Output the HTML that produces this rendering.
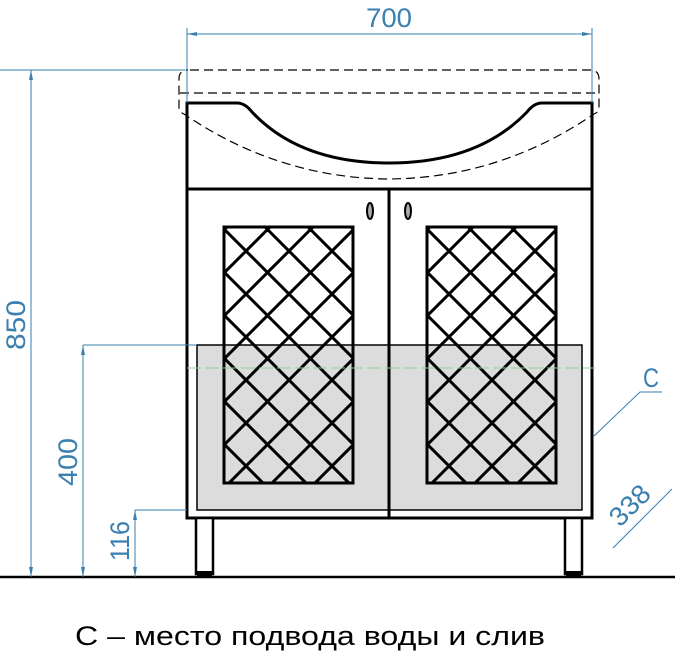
<!DOCTYPE html>
<html><head><meta charset="utf-8"><style>
html,body{margin:0;padding:0;background:#fff;width:675px;height:656px;overflow:hidden}
svg{display:block}
</style></head><body>
<svg width="675" height="656" viewBox="0 0 675 656" xmlns="http://www.w3.org/2000/svg">
<defs>
<clipPath id="cl"><rect x="224" y="227" width="129" height="256"/></clipPath>
<clipPath id="cr"><rect x="427" y="227" width="129" height="256"/></clipPath>
<g id="lat">
<path d="M-260,0 L260,520 M-217,0 L303,520 M-174,0 L346,520 M-131,0 L389,520 M-88,0 L432,520 M-45,0 L475,520 M-2,0 L518,520 M41,0 L561,520 M84,0 L604,520 M127,0 L647,520 M170,0 L690,520
M390,0 L-130,520 M347,0 L-173,520 M304,0 L-216,520 M261,0 L-259,520 M218,0 L-302,520 M175,0 L-345,520 M132,0 L-388,520 M89,0 L-431,520 M46,0 L-474,520 M3,0 L-517,520 M433,0 L-87,520 M476,0 L-44,520 M519,0 L-1,520" stroke="#000" stroke-width="3" fill="none"/>
</g>
</defs>
<rect x="197" y="345" width="385" height="165" fill="#dcdcdc" stroke="#000" stroke-width="1.5"/>
<g clip-path="url(#cl)"><use href="#lat" x="224" y="227"/></g>
<g clip-path="url(#cr)"><use href="#lat" x="427" y="227"/></g>
<rect x="224" y="227" width="129" height="256" fill="none" stroke="#000" stroke-width="3"/>
<rect x="427" y="227" width="129" height="256" fill="none" stroke="#000" stroke-width="3"/>
<path d="M187,518 L187,103 L237,103 Q245,103 252,112 Q300,163 389,163 Q478,163 527,112 Q534,103 542,103 L592,103 L592,518 Z" fill="none" stroke="#000" stroke-width="3"/>
<line x1="187" y1="189" x2="592" y2="189" stroke="#000" stroke-width="3"/>
<line x1="389" y1="189" x2="389" y2="518" stroke="#000" stroke-width="3"/>
<ellipse cx="370" cy="211" rx="3" ry="8" fill="#aaa" stroke="#000" stroke-width="2"/>
<ellipse cx="408" cy="211" rx="3" ry="8" fill="#aaa" stroke="#000" stroke-width="2"/>
<path d="M190,70 L590,70 Q599,70 599,79 L599,108 Q599,112 594,114 Q500,178 389,179 Q278,178 184,114 Q179,112 179,108 L179,79 Q179,70 188,70" fill="none" stroke="#000" stroke-width="1.2" stroke-dasharray="9,5"/>
<line x1="180" y1="93" x2="598" y2="93" stroke="#000" stroke-width="1.2" stroke-dasharray="9,5"/>
<line x1="187" y1="368" x2="595" y2="368" stroke="#9c9" stroke-width="1" stroke-dasharray="14,4"/>
<rect x="196" y="518" width="17" height="56" fill="#fff" stroke="#000" stroke-width="2.5"/>
<rect x="565" y="518" width="17" height="56" fill="#fff" stroke="#000" stroke-width="2.5"/>
<rect x="197" y="571" width="15" height="6" fill="#000"/>
<rect x="566" y="571" width="15" height="6" fill="#000"/>
<line x1="0" y1="577" x2="675" y2="577" stroke="#000" stroke-width="2.5"/>
<g stroke="#3a7fb0" stroke-width="1" fill="none">
<line x1="187" y1="34" x2="592" y2="34"/>
<line x1="187" y1="28" x2="187" y2="103"/>
<line x1="592" y1="28" x2="592" y2="103"/>
<line x1="0" y1="70" x2="185" y2="70"/>
<line x1="31" y1="70" x2="31" y2="577"/>
<line x1="83" y1="345" x2="197" y2="345"/>
<line x1="83" y1="345" x2="83" y2="577"/>
<line x1="135" y1="510" x2="187" y2="510"/>
<line x1="135" y1="510" x2="135" y2="577"/>
<polyline points="593,437 640,392 662,392"/>
<line x1="613" y1="548" x2="672" y2="489"/>
</g>
<g fill="#3a7fb0">
<path d="M187,34 l10,-2 v4 z M592,34 l-10,-2 v4 z"/>
<path d="M31,70 l-2,10 h4 z M31,577 l-2,-10 h4 z M83,345 l-2,10 h4 z M83,577 l-2,-10 h4 z M135,510 l-2,10 h4 z M135,577 l-2,-10 h4 z"/>
</g>
<g font-family="Liberation Sans, sans-serif" fill="#3a7fb0" font-size="27">
<text x="366" y="27" textLength="46" lengthAdjust="spacingAndGlyphs">700</text>
<text transform="translate(25,350) rotate(-90)" textLength="50" lengthAdjust="spacingAndGlyphs">850</text>
<text transform="translate(77,486) rotate(-90)" textLength="48" lengthAdjust="spacingAndGlyphs">400</text>
<text transform="translate(129,561) rotate(-90)" textLength="40" lengthAdjust="spacingAndGlyphs">116</text>
<text x="643" y="387" textLength="16" lengthAdjust="spacingAndGlyphs">C</text>
<text transform="translate(620,528) rotate(-45)" textLength="46" lengthAdjust="spacingAndGlyphs">338</text>
</g>
<text x="75" y="645" font-family="Liberation Sans, DejaVu Sans, sans-serif" font-size="27" fill="#000" textLength="470" lengthAdjust="spacingAndGlyphs">С – место подвода воды и слив</text>
</svg>
</body></html>
